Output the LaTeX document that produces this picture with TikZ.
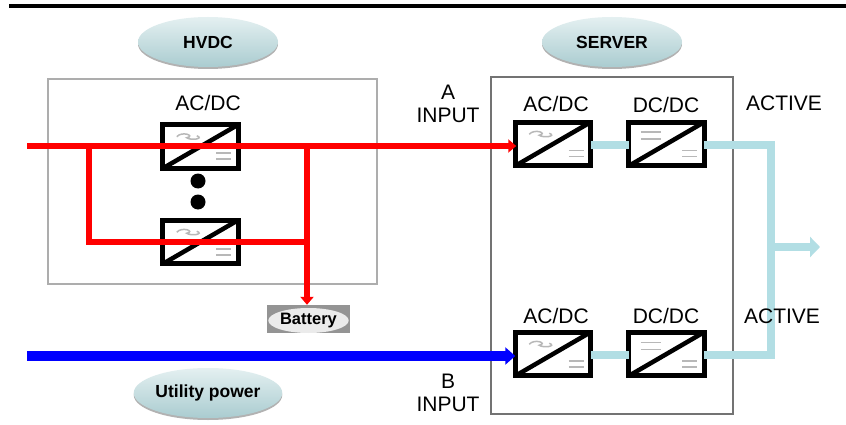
\documentclass[tikz,border=0pt]{standalone}
\usepackage{fontspec}
\setmainfont{Liberation Sans}
\usetikzlibrary{shapes.geometric,arrows.meta,calc,shadows}
\definecolor{lblue}{RGB}{178,222,228}
\definecolor{ovalA}{RGB}{228,240,241}
\definecolor{ovalB}{RGB}{170,204,208}
\tikzset{
  conv/.style={draw=black,line width=5pt,fill=white,minimum width=75.5pt,minimum height=43.5pt,inner sep=0pt,outer sep=0pt},
  lab/.style={font=\fontsize{21}{22}\selectfont,text=black,inner sep=0pt},
  oval/.style={ellipse,minimum width=140pt,minimum height=50pt,inner sep=0pt,draw=none,top color=ovalA,bottom color=ovalB,
     font=\fontsize{17.5}{20}\selectfont\bfseries,text=black,drop shadow={shadow xshift=0pt,shadow yshift=-2pt,fill=black!50,opacity=.6}},
  panel/.style={draw=black!32,line width=2.2pt,fill=white},
  redline/.style={draw=red,line width=6.2pt},
  redtip/.style={-{Triangle[length=8pt,width=13pt]}},
  pale/.style={draw=lblue,line width=8pt},
  ghost/.style={draw=black!28,line width=1.5pt},
}
\newcommand{\convmarks}[2]{%
  \draw[line width=4.5pt,black] ($(#1.south west)+(2,-1)$) -- ($(#1.north east)+(-2,1)$);
  \draw[ghost] ($(#1.south east)+(-22,-9)$) -- ++(15,0);
  \draw[ghost] ($(#1.south east)+(-22,-15)$) -- ++(15,0);
  \ifnum#2=0
    \draw[ghost] ($(#1.north west)+(14,12)$) .. controls +(5,-6) and +(9,-2) .. ++(10,1) .. controls +(4,3) and +(8,3) .. ++(10,-2);
  \else
    \draw[ghost] ($(#1.north west)+(12,10)$) -- ++(20,0);
    \draw[ghost] ($(#1.north west)+(12,17)$) -- ++(20,0);
  \fi}
\begin{document}
\begin{tikzpicture}[x=1pt,y=-1pt]
\useasboundingbox (0,0) rectangle (846,425);
\fill[white] (0,0) rectangle (846,425);
\coordinate (barL) at (9,6); \coordinate (barR) at (846,6);
\draw[line width=4.5pt,black] (barL) -- (barR);
% panels
\node[panel,minimum width=329pt,minimum height=205pt,inner sep=0pt] (hvdcbox) at (212.5,181.5) {};
\node[draw=black!55,line width=2.2pt,fill=white,minimum width=242pt,minimum height=337pt,inner sep=0pt] (srvbox) at (612,245.5) {};
% ovals
\node[oval] (hvdc) at (208,42) {HVDC};
\node[oval] (server) at (612,42) {SERVER};
\node[oval] (util) at (208,393) {Utility power};
% converters
\node[conv] (c1) at (200.5,146.5) {};
\node[conv] (c2) at (200.5,242) {};
\node[conv] (s1) at (553,144) {};
\node[conv] (s2) at (666.5,144) {};
\node[conv] (s3) at (553,354) {};
\node[conv] (s4) at (666.5,354) {};
\convmarks{c1}{0}\convmarks{c2}{0}\convmarks{s1}{0}\convmarks{s3}{0}\convmarks{s2}{1}\convmarks{s4}{1}
\node[circle,fill=black,minimum size=15pt,inner sep=0pt] (d1) at (198,181) {};
\node[circle,fill=black,minimum size=15pt,inner sep=0pt] (d2) at (198,202) {};
% battery
\node[draw=none,fill=black!42,minimum width=83pt,minimum height=28pt,inner sep=0pt] (bat) at (308.5,319) {};
\node[ellipse,inner sep=0pt,minimum width=76pt,minimum height=25pt,fill=black!8,font=\fontsize{16.5}{18}\selectfont\bfseries,text=black] (batl) at ($(bat.center)+(0,1.5)$) {Battery};
% red
\coordinate (rin) at (27,146);
\coordinate (j1) at (89,146);
\coordinate (j2) at (89,242);
\coordinate (j3) at (307,146);
\coordinate (j4) at (307,242);
\draw[redline,redtip,shorten >=-1pt] (rin) -- (rin -| s1.west);
\draw[redline] (j1) -- (j2) -- (j4);
\draw[redline,redtip] (j3) -- (bat.north -| j3);
% blue
\coordinate (bin) at (27,356);
\draw[draw={rgb,255:red,0;green,0;blue,255},line width=10pt,-{Triangle[length=10pt,width=17pt]}] (bin) -- (bin -| s3.west);
% pale output
\coordinate (pj1) at (771,145);
\coordinate (pj2) at (771,355);
\coordinate (pm) at (771,247);
\coordinate (pout) at (820,247);
\draw[pale] (pj1 -| s1.east) -- (pj1 -| s2.west);
\draw[pale] (pj2 -| s3.east) -- (pj2 -| s4.west);
\draw[pale] (pj1 -| s2.east) -- (pj1) -- (pj2) -- (pj2 -| s4.east);
\draw[pale,-{Triangle[length=10pt,width=20pt]}] (pm) -- (pout);
% labels
\node[lab] (l1) at (208,103) {AC/DC};
\node[lab] (l2) at (556,104) {AC/DC};
\node[lab] (l3) at (666,105) {DC/DC};
\node[lab] (l4) at (556,316) {AC/DC};
\node[lab] (l5) at (666,316) {DC/DC};
\node[lab] (l6) at (784,103) {ACTIVE};
\node[lab] (l7) at (782,316) {ACTIVE};
\node[lab,align=center] (l8) at (448,104) {A\\[1pt]INPUT};
\node[lab,align=center] (l9) at (448,393) {B\\[1pt]INPUT};
\end{tikzpicture}
\end{document}
